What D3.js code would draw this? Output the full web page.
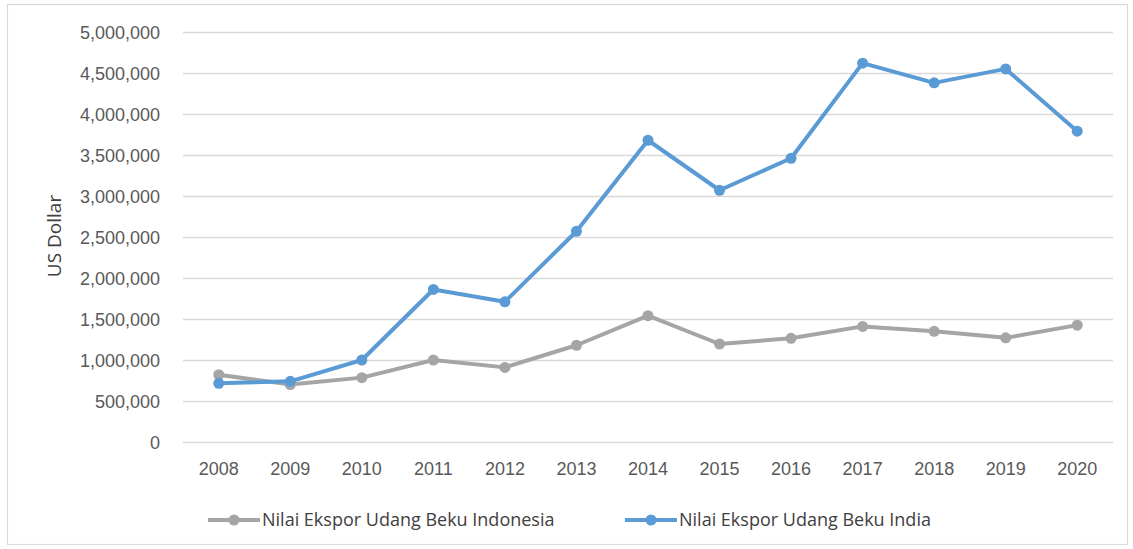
<!DOCTYPE html>
<html lang="id">
<head>
  <meta charset="UTF-8">
  <title>Nilai Ekspor Udang Beku</title>
  <script src="https://d3js.org/d3.v7.min.js"></script>
  <style>
    body {
      margin: 0;
      background: #ffffff;
      font-family: "Open Sans", Arial, sans-serif;
    }
    .grid line {
      stroke: #d9d9d9;
      stroke-width: 1.3;
    }
    .axis text {
      fill: #595959;
      font-size: 18px;
    }
    .legend text {
      fill: #404040;
      font-size: 18px;
    }
  </style>
</head>
<body>
  <script>
    // Data
    const years = ["2008", "2009", "2010", "2011", "2012", "2013", "2014",
                   "2015", "2016", "2017", "2018", "2019", "2020"];
    const indonesia = [820000, 700000, 785000, 1000000, 910000, 1180000, 1540000,
                       1195000, 1265000, 1410000, 1350000, 1270000, 1425000];
    const india = [715000, 740000, 1000000, 1860000, 1710000, 2570000, 3680000,
                   3070000, 3460000, 4620000, 4380000, 4550000, 3790000];
    const yTicks = [0, 500000, 1000000, 1500000, 2000000, 2500000,
                    3000000, 3500000, 4000000, 4500000, 5000000];
    const seriesNames = ["Nilai Ekspor Udang Beku Indonesia", "Nilai Ekspor Udang Beku India"];
    const colors = ["#a5a5a5", "#5b9bd5"];

    // Dimensions
    const width = 1133;
    const height = 549;
    const margin = { top: 32, right: 20, bottom: 107, left: 183 };

    const svg = d3.select("body")
                  .append("svg")
                  .attr("width", width)
                  .attr("height", height);

    // Outer border
    svg.append("rect")
       .attr("x", 7.5)
       .attr("y", 4.5)
       .attr("width", 1120)
       .attr("height", 540)
       .attr("fill", "#ffffff")
       .attr("stroke", "#d9d9d9")
       .attr("stroke-width", 1.2);

    // Scales
    const xScale = d3.scaleBand()
                     .domain(years)
                     .range([margin.left, width - margin.right]);

    const yScale = d3.scaleLinear()
                     .domain([0, 5000000])
                     .range([height - margin.bottom, margin.top]);

    // Gridlines
    svg.append("g")
       .attr("class", "grid")
       .attr("transform", `translate(${margin.left}, 0)`)
       .call(d3.axisLeft(yScale)
               .tickValues(yTicks)
               .tickSize(-(width - margin.left - margin.right))
               .tickFormat(""))
       .call(g => g.select(".domain").remove());

    // Y axis labels
    svg.append("g")
       .attr("class", "axis")
       .attr("transform", `translate(${margin.left - 20}, 0)`)
       .call(d3.axisLeft(yScale)
               .tickValues(yTicks)
               .tickSize(0)
               .tickFormat(d3.format(",")))
       .call(g => g.select(".domain").remove())
       .selectAll("text")
       .attr("dy", "0.35em");

    // X axis labels
    svg.append("g")
       .attr("class", "axis")
       .attr("transform", `translate(0, ${height - margin.bottom})`)
       .call(d3.axisBottom(xScale).tickSize(0).tickPadding(20))
       .call(g => g.select(".domain").remove());

    // Y axis title
    svg.append("text")
       .attr("transform", `translate(61, 236) rotate(-90)`)
       .attr("text-anchor", "middle")
       .attr("fill", "#404040")
       .style("font-size", "19px")
       .text("US Dollar");

    // Lines and markers
    const allSeries = [indonesia, india];
    const line = d3.line()
                   .x((d, i) => xScale(years[i]) + xScale.bandwidth() / 2)
                   .y(d => yScale(d));

    allSeries.forEach((values, s) => {
      svg.append("path")
         .datum(values)
         .attr("fill", "none")
         .attr("stroke", colors[s])
         .attr("stroke-width", 4)
         .attr("stroke-linejoin", "round")
         .attr("d", line);

      svg.selectAll(".dot" + s)
         .data(values)
         .enter()
         .append("circle")
         .attr("cx", (d, i) => xScale(years[i]) + xScale.bandwidth() / 2)
         .attr("cy", d => yScale(d))
         .attr("r", 5.5)
         .attr("fill", colors[s]);
    });

    // Legend
    const legendX = [208, 625];
    const legendY = 520;
    const legend = svg.append("g").attr("class", "legend");
    seriesNames.forEach((name, s) => {
      const g = legend.append("g").attr("transform", `translate(${legendX[s]}, ${legendY})`);
      g.append("line")
       .attr("x1", 0).attr("x2", 52)
       .attr("stroke", colors[s])
       .attr("stroke-width", 4);
      g.append("circle")
       .attr("cx", 26)
       .attr("r", 5.5)
       .attr("fill", colors[s]);
      g.append("text")
       .attr("x", 54)
       .attr("dy", "0.35em")
       .text(name);
    });
  </script>
</body>
</html>
